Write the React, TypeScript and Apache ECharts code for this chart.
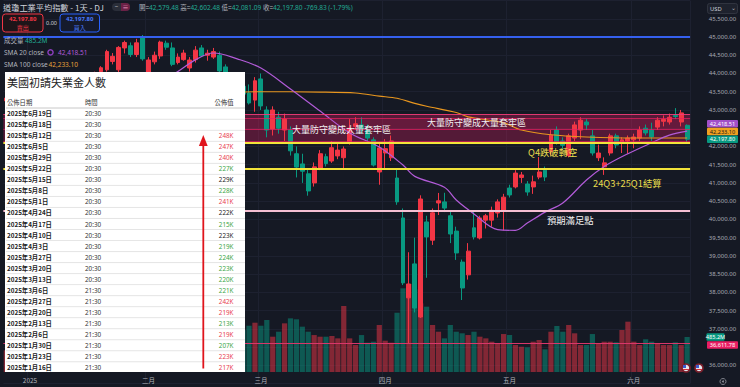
import React, { useEffect, useRef } from 'react';
import * as echarts from 'echarts';

// ---------- data ----------
const tradingDays: [string, number[]][] = [
  ['2024-12', [26, 27, 30, 31]],
  ['2025-01', [2, 3, 6, 7, 8, 10, 13, 14, 15, 16, 17, 21, 22, 23, 24, 27, 28, 29, 30, 31]],
  ['2025-02', [3, 4, 5, 6, 7, 10, 11, 12, 13, 14, 18, 19, 20, 21, 24, 25, 26, 27, 28]],
  ['2025-03', [3, 4, 5, 6, 7, 10, 11, 12, 13, 14, 17, 18, 19, 20, 21, 24, 25, 26, 27, 28, 31]],
  ['2025-04', [1, 2, 3, 4, 7, 8, 9, 10, 11, 14, 15, 16, 17, 21, 22, 23, 24, 25, 28, 29, 30]],
  ['2025-05', [1, 2, 5, 6, 7, 8, 9, 12, 13, 14, 15, 16, 19, 20, 21, 22, 23, 27, 28, 29, 30]],
  ['2025-06', [2, 3, 4, 5, 6, 9, 10, 11, 12, 13]],
];
const dates: string[] = tradingDays.flatMap(([m, ds]) => ds.map((d) => `${m}-${String(d).padStart(2, '0')}`));

const opens = [
  43250, 43200, 42800, 42600,
  42614, 42430, 42800, 42750, 42500, 42500, 41800, 42400, 42900, 43200, 43400, 43600, 44050, 44100, 44330, 44100, 44700, 44760, 44520, 45000,
  44000, 44320, 44480, 44830, 44700, 44300, 44380, 44150, 44380, 44700, 44500, 44450, 44500, 44180, 43500, 43500, 43650, 43465, 43270,
  43850, 43000, 42480, 42800, 42450, 42450, 41800, 41520, 41250, 41000, 41400, 41720, 41600, 41740, 41690, 42120, 42550, 42590, 42450, 42180, 41300,
  41820, 41690, 41135, 40040, 37850, 38780, 37325, 39930, 39430, 40450, 40480, 40100, 39680, 38830, 38480, 39770, 39490, 39980, 39980, 40175, 40250,
  40860, 40890, 41150, 40970, 40890, 41160, 41350, 41850, 42450, 42150, 41750, 42230, 42450, 42670, 42290, 41690, 41440, 41820, 42290, 42120, 42150,
  42180, 42230, 42500, 42450, 42530, 42690, 42670, 42850, 42670, 42579.48,
];
const closes = [
  43325, 42992, 42574, 42544,
  42392, 42732, 42707, 42528, 42635, 41938, 42297, 42518, 43222, 43153, 43488, 44026, 44157, 44600, 44470, 44714, 44850, 44520, 44840, 44400,
  44370, 44500, 44860, 44720, 44250, 44450, 44560, 44369, 44640, 44480, 44556, 44600, 44070, 43428, 43461, 43621, 43433, 43190, 43800,
  43110, 42450, 43000, 42500, 42750, 41880, 41433, 41320, 40780, 41440, 41800, 41530, 41965, 41900, 41930, 42500, 42620, 42450, 42230, 41490, 41960,
  41940, 42150, 40480, 38260, 38230, 37570, 40560, 39520, 40180, 40510, 40310, 39600, 39080, 38120, 39130, 39520, 40040, 40100, 40250, 40480, 40610,
  40670, 41270, 41219, 40750, 41030, 41300, 41160, 42310, 42100, 42030, 42290, 42590, 42720, 42590, 41820, 41820, 41550, 42290, 42040, 42180, 42230,
  42260, 42450, 42370, 42260, 42720, 42740, 42800, 42820, 42920, 42197.8,
];
const lows = [
  43100, 42700, 42300, 42400,
  42137, 42380, 42600, 42400, 42200, 41800, 41750, 42200, 42800, 43000, 43300, 43550, 43900, 44050, 44250, 44000, 44550, 44450, 44450, 44350,
  43880, 44250, 44400, 44650, 44200, 44250, 44350, 44050, 44300, 44450, 44350, 44400, 43900, 43350, 43400, 43300, 43300, 43150, 42950,
  43000, 42250, 42300, 42350, 42150, 41750, 41150, 41000, 40650, 40900, 41350, 41450, 41550, 41650, 41400, 42050, 42450, 42350, 42150, 41450, 40950,
  41400, 41600, 40400, 38200, 36611.78, 37450, 37300, 38400, 39300, 40120, 40200, 39350, 38890, 37790, 38350, 39450, 39450, 39750, 39800, 40050, 39700,
  40600, 40850, 41000, 40650, 40700, 41100, 41050, 41750, 42050, 41900, 41700, 42150, 42200, 42450, 41750, 41600, 41220, 41750, 41950, 41820, 41800,
  41950, 42150, 42300, 42150, 42450, 42550, 42600, 42750, 42550, 42081.09,
];
const highs = [
  43450, 43300, 42850, 42800,
  42800, 42800, 43000, 43000, 42700, 42600, 42350, 42700, 43300, 43400, 43650, 44050, 44200, 44650, 44560, 44750, 44900, 44850, 44950, 45054,
  44450, 44600, 44900, 44900, 44850, 44550, 44650, 44450, 44750, 44780, 44650, 44700, 44600, 44250, 43800, 43800, 43900, 43700, 43900,
  44000, 43100, 43100, 42950, 42900, 42550, 42000, 41800, 41400, 41560, 41900, 41800, 42150, 42100, 42000, 42750, 42800, 42800, 42600, 42250, 42100,
  42200, 42300, 41400, 40300, 39100, 39500, 40660, 40100, 40300, 40725, 40730, 40250, 39800, 38900, 39350, 40250, 40100, 40150, 40350, 40550, 40700,
  40950, 41350, 41300, 41050, 41200, 41710, 41450, 42450, 42550, 42250, 42350, 42680, 42800, 42750, 42450, 42050, 41700, 42350, 42350, 42250, 42300,
  42350, 42550, 42600, 42650, 42800, 42850, 42900, 43050, 43000, 42602.48,
];
const volumes = [
  300, 380, 420, 430,
  480, 470, 520, 540, 500, 560, 520, 540, 560, 560, 620, 560, 520, 560, 540, 620, 560, 520, 560, 600,
  580, 480, 500, 480, 520, 460, 440, 480, 520, 470, 520, 460, 520, 680, 560, 600, 580, 641, 683,
  641, 720, 489, 558, 674, 743, 730, 628, 558, 512, 489, 489, 499, 466, 914, 466, 374, 512, 406, 420, 651,
  434, 406, 821, 1159, 1219, 1145, 950, 905, 651, 558, 466, 651, 558, 536, 512, 558, 489, 466, 420, 397, 526,
  512, 374, 350, 342, 420, 443, 314, 558, 637, 558, 651, 536, 374, 374, 526, 397, 420, 420, 411, 582, 697,
  420, 374, 453, 420, 397, 374, 374, 411, 374, 485.2,
];

const sma20Dates = ['2025-01-02', '2025-01-10', '2025-01-17', '2025-01-24', '2025-01-31', '2025-02-07', '2025-02-13', '2025-02-19', '2025-02-25', '2025-03-03', '2025-03-10', '2025-03-17', '2025-03-24', '2025-03-31', '2025-04-04', '2025-04-08', '2025-04-15', '2025-04-17', '2025-04-23', '2025-04-29', '2025-05-02', '2025-05-06', '2025-05-09', '2025-05-14', '2025-05-20', '2025-05-23', '2025-05-30', '2025-06-05', '2025-06-10', '2025-06-13'];
const sma20Values = [43150, 42900, 42800, 43150, 43650, 43958, 44380, 44561, 44400, 44150, 43575, 42970, 42370, 41985, 41490, 41180, 40880, 40530, 40150, 39720, 39700, 39900, 40200, 40450, 41080, 41450, 41800, 42100, 42310, 42418.51];

const sma100Dates = ['2025-01-02', '2025-01-17', '2025-01-31', '2025-02-14', '2025-03-03', '2025-03-17', '2025-03-25', '2025-03-31', '2025-04-03', '2025-04-08', '2025-04-10', '2025-04-17', '2025-04-22', '2025-04-30', '2025-05-05', '2025-05-12', '2025-05-20', '2025-06-02', '2025-06-13'];
const sma100Values = [42700, 42950, 43200, 43420, 43500, 43490, 43465, 43380, 43320, 43180, 43100, 42930, 42810, 42650, 42450, 42320, 42260, 42230, 42233.1];

const timeLabelDates = ['2025-01-02', '2025-02-03', '2025-03-03', '2025-04-01', '2025-05-01', '2025-06-02'];
const timeLabelTexts = ['2025', '二月', '三月', '四月', '五月', '六月'];

// price-axis ticks hidden behind the value tags
const coveredTicks = [42500, 36500];

// drawn price levels
const blueLevel = 45000;
const zoneLevels = [42889, 42771, 42470, 42135];
const yellowLevels = [42100, 41380];
const targetLevel = 40230;
const lowLevel = 36611.78;

// jobless claims table
const releaseDates = ['2025年6月19日', '2025年6月18日', '2025年6月12日', '2025年6月5日', '2025年5月29日', '2025年5月22日', '2025年5月15日', '2025年5月8日', '2025年5月1日', '2025年4月24日', '2025年4月17日', '2025年4月10日', '2025年4月3日', '2025年3月27日', '2025年3月20日', '2025年3月13日', '2025年3月6日', '2025年2月27日', '2025年2月20日', '2025年2月13日', '2025年2月6日', '2025年1月30日', '2025年1月23日', '2025年1月16日'];
const releaseTimes = ['20:30', '20:30', '20:30', '20:30', '20:30', '20:30', '20:30', '20:30', '20:30', '20:30', '20:30', '20:30', '20:30', '20:30', '20:30', '20:30', '21:30', '21:30', '21:30', '21:30', '21:30', '21:30', '21:30', '21:30'];
const releaseValues = ['', '', '248K', '247K', '240K', '227K', '229K', '228K', '241K', '222K', '215K', '223K', '219K', '224K', '223K', '220K', '221K', '242K', '219K', '213K', '219K', '207K', '223K', '217K'];
const releaseTones = ['', '', 'up', 'up', 'up', 'down', 'flat', 'down', 'up', 'flat', 'down', 'flat', 'down', 'down', 'down', 'down', 'down', 'up', 'up', 'down', 'up', 'down', 'up', 'up'];

// ---------- styling ----------
const FONT = '"Noto Sans", "Noto Sans CJK TC", sans-serif';
const CJK = '"Noto Sans CJK TC", "Noto Sans", sans-serif';
const BG = '#151924';
const UP = '#f23645';
const DOWN = '#089981';
const VOL_UP = 'rgba(242,54,69,0.5)';
const VOL_DOWN = 'rgba(8,153,129,0.5)';
const GRIDLINE = '#1d2130';
const fmt2 = (v: number) => v.toLocaleString('en-US', { minimumFractionDigits: 2, maximumFractionDigits: 2 });

function txt(text: string, x: number, y: number, o: any = {}) {
  const align = o.align ?? 'left';
  return {
    type: 'text', x, y, z: o.z ?? 100, silent: true,
    style: {
      text, fill: o.fill ?? '#d1d4dc', fontSize: o.size ?? 7, fontFamily: o.font ?? FONT,
      fontWeight: o.weight ?? 'normal', align, textAlign: align,
      verticalAlign: 'middle', textVerticalAlign: 'middle', rich: o.rich, lineHeight: o.lh,
    },
  };
}
function rect(x: number, y: number, w: number, h: number, style: any, z = 100, r: any = 0) {
  return { type: 'rect', z, silent: true, shape: { x, y, width: w, height: h, r }, style };
}

function buildGraphics() {
  const last = dates.length - 1;
  const g: any[] = [];
  // header
  g.push(txt('道瓊工業平均指數 - 1天 - DJ', 3, 7, { size: 8.2, fill: '#d1d4dc', font: CJK }));
  g.push(rect(112, 3, 18, 8, { fill: '#2a2e39' }, 100, 4));
  g.push(rect(121, 3, 9, 8, { fill: '#6a2146' }, 101, [0, 4, 4, 0]));
  g.push(txt('−', 116.5, 7, { size: 6, fill: '#d1d4dc', align: 'center', z: 102 }));
  g.push(txt('≡', 125.5, 7, { size: 6, fill: '#f0a0c8', align: 'center', z: 102 }));
  const ohlcLabels = ['開', '高', '低', '收'];
  const ohlcVals = [opens[last], highs[last], lows[last], closes[last]];
  const change = -769.83;
  const pct = -1.79;
  let rt = '';
  ohlcLabels.forEach((l, k) => { rt += `{l|${l}=}{v|${fmt2(ohlcVals[k])}} `; });
  rt += `{v|${fmt2(change)} (${pct.toFixed(2)}%)}`;
  g.push(txt(rt, 139, 7, {
    size: 6.5,
    rich: {
      l: { fill: '#b2b5be', color: '#b2b5be', fontSize: 6.5, fontFamily: CJK },
      v: { fill: '#22ab94', color: '#22ab94', fontSize: 6.5, fontFamily: FONT },
    },
  }));
  // sell / buy
  g.push(rect(2.5, 14, 40.5, 18, { fill: '#1d1519', stroke: UP, lineWidth: 1 }, 100, 3));
  g.push(txt(fmt2(closes[last]), 22.7, 18.9, { size: 6, lh: 6.5, fill: UP, align: 'center', weight: 'bold' }));
  g.push(txt('賣出', 22.7, 27, { size: 6, lh: 6.5, fill: UP, align: 'center', font: CJK }));
  g.push(txt('0.00', 51.5, 23.3, { size: 5.5, fill: '#d1d4dc', align: 'center' }));
  g.push(rect(60, 14, 39.5, 18, { fill: '#151a2c', stroke: '#2962ff', lineWidth: 1 }, 100, 3));
  g.push(txt(fmt2(closes[last]), 79.7, 18.9, { size: 6, lh: 6.5, fill: '#4a7bff', align: 'center', weight: 'bold' }));
  g.push(txt('買入', 79.7, 27, { size: 6, lh: 6.5, fill: '#4a7bff', align: 'center', font: CJK }));
  // legend
  g.push(txt('成交量', 4, 40, { size: 6.5, fill: '#b2b5be', font: CJK }));
  g.push(txt(`${volumes[last]}M`, 25, 40, { size: 6.5, fill: '#22ab94' }));
  g.push(txt('SMA 20 close', 4, 52.3, { size: 6.5, fill: '#b2b5be' }));
  g.push({ type: 'circle', z: 100, silent: true, shape: { cx: 50.5, cy: 52.3, r: 2.6 }, style: { fill: 'none', stroke: '#8e3fc0', lineWidth: 1.4 } });
  g.push(txt(fmt2(sma20Values[sma20Values.length - 1]), 58, 52.3, { size: 6.5, fill: '#b25bd8' }));
  g.push(txt('SMA 100 close', 4, 64, { size: 6.5, fill: '#b2b5be' }));
  g.push(txt(fmt2(sma100Values[sma100Values.length - 1]), 48.5, 64, { size: 6.5, fill: '#e8a23a' }));

  // annotations
  g.push(txt('大量防守變成大量套牢區', 292, 129.5, { size: 9, fill: '#f2f2f2', font: CJK }));
  g.push(txt('大量防守變成大量套牢區', 427, 122.3, { size: 9, fill: '#f2f2f2', font: CJK }));
  g.push(txt('Q4跌破轉空', 528, 151.5, { size: 9.3, fill: '#e9dd4e', font: CJK }));
  g.push(txt('24Q3+25Q1結算', 593, 182.5, { size: 9.3, fill: '#e9dd4e', font: CJK }));
  g.push(txt('預期滿足點', 547, 219.5, { size: 9.3, fill: '#f2f2f2', font: CJK }));

  // right axis tags
  g.push(rect(707.5, 3.5, 30, 10, { fill: '#1e222d', stroke: '#363a45', lineWidth: 0.8 }, 100, 2));
  g.push(txt('USD', 710, 8.5, { size: 5.8, fill: '#d1d4dc' }));
  g.push(txt('⌄', 733, 7.5, { size: 5.5, fill: '#b2b5be', align: 'center' }));
  const tag = (val: string, y: number, fill: string, tc: string, x = 707, w = 31, h = 7.5) => {
    g.push(rect(x, y, w, h, { fill }, 110, 1));
    g.push(txt(val, x + w / 2, y + h / 2, { size: 5.6, fill: tc, align: 'center', z: 111 }));
  };
  tag(fmt2(sma20Values[sma20Values.length - 1]), 120, '#a24fc8', '#ffffff');
  tag(fmt2(sma100Values[sma100Values.length - 1]), 127.8, '#f0a020', '#1a1a1a');
  tag(fmt2(closes[last]), 135.6, '#089981', '#ffffff');
  tag(`${volumes[last]}M`, 333.2, '#089981', '#ffffff', 706.5, 18);
  tag(fmt2(lowLevel), 341.2, '#e91e63', '#ffffff');
  // flags & gear
  [686, 699].forEach((cx) => {
    g.push({ type: 'circle', z: 100, silent: true, shape: { cx, cy: 368, r: 4.8 }, style: { fill: '#7a1f2b' } });
    g.push({ type: 'circle', z: 101, silent: true, shape: { cx, cy: 368, r: 3.2 }, style: { fill: '#e6e8ee' } });
    g.push(rect(cx - 3, 365, 3, 3, { fill: '#3b5bd0' }, 102));
    g.push(rect(cx - 3, 369, 6, 1, { fill: '#d6313f' }, 102));
  });
  g.push({ type: 'circle', z: 100, silent: true, shape: { cx: 723, cy: 381.5, r: 3 }, style: { fill: 'none', stroke: '#8a8d96', lineWidth: 0.9 } });
  g.push({ type: 'circle', z: 100, silent: true, shape: { cx: 723, cy: 381.5, r: 1 }, style: { fill: '#8a8d96' } });

  // table
  const TL = 5, TR = 245, TT = 72, TB = 372;
  g.push(rect(TL, TT, TR - TL, TB - TT, { fill: '#ffffff' }, 200));
  g.push(txt('美國初請失業金人數', 7, 81.5, { size: 11, fill: '#222222', font: CJK, z: 201 }));
  g.push(txt('公佈日期', 7, 102.3, { size: 6.3, fill: '#333333', font: CJK, z: 201 }));
  g.push(txt('時間', 85, 102.3, { size: 6.3, fill: '#333333', font: CJK, z: 201 }));
  g.push(txt('公佈值', 233.5, 102.3, { size: 6.3, fill: '#333333', font: CJK, z: 201, align: 'right' }));
  g.push({ type: 'line', z: 201, silent: true, shape: { x1: TL + 1, y1: 108, x2: TR, y2: 108 }, style: { stroke: '#c8c8c8', lineWidth: 1 } });
  const pitch = 11.02;
  const toneColor: any = { up: '#e8414f', down: '#3aa645', flat: '#222222', '': '#222222' };
  releaseDates.forEach((d, k) => {
    const cy = 113.8 + k * pitch;
    g.push(txt(d, 7, cy, { size: 6.3, fill: '#222222', font: CJK, weight: 'bold', z: 201 }));
    g.push(txt(releaseTimes[k], 85, cy, { size: 6.3, fill: '#333333', z: 201 }));
    if (releaseValues[k]) g.push(txt(releaseValues[k], 233.5, cy, { size: 6.3, fill: toneColor[releaseTones[k]], z: 201, align: 'right' }));
    if (k < releaseDates.length - 1) {
      g.push({ type: 'line', z: 201, silent: true, shape: { x1: TL + 1, y1: cy + pitch / 2, x2: TR, y2: cy + pitch / 2 }, style: { stroke: '#dedede', lineWidth: 0.8 } });
    }
  });
  // red arrow
  g.push({ type: 'line', z: 202, silent: true, shape: { x1: 203.3, y1: 143, x2: 203.3, y2: 368.5 }, style: { stroke: '#e0141c', lineWidth: 1.8 } });
  g.push({ type: 'polygon', z: 202, silent: true, shape: { points: [[198.9, 146], [207.7, 146], [203.3, 135]] }, style: { fill: '#e0141c' } });
  return g;
}

function buildOption() {
  const labelSet = new Set(timeLabelDates);
  const isLabel = (_i: number, v: string) => labelSet.has(v);
  return {
    animation: false,
    backgroundColor: BG,
    grid: [
      { left: 3.36, width: 686.72, top: 0.52, height: 383.04 },
      { left: 3.36, width: 686.72, top: 250, height: 122 },
    ],
    xAxis: [
      {
        type: 'category', gridIndex: 0, data: dates, boundaryGap: true,
        axisLine: { show: false }, axisTick: { show: false }, axisLabel: { show: false },
        splitLine: { show: true, interval: isLabel, lineStyle: { color: GRIDLINE, width: 1 } },
      },
      {
        type: 'category', gridIndex: 1, data: dates, boundaryGap: true,
        axisLine: { show: false }, axisTick: { show: false }, splitLine: { show: false },
        axisLabel: {
          interval: isLabel,
          formatter: (v: string) => timeLabelTexts[timeLabelDates.indexOf(v)] ?? '',
          color: '#b2b5be', fontSize: 6.5, margin: 5, fontFamily: CJK,
        },
      },
    ],
    yAxis: [
      {
        type: 'value', gridIndex: 0, position: 'right', min: 35500, max: 46000, interval: 500, scale: false,
        axisLine: { show: false }, axisTick: { show: false },
        splitLine: { show: true, lineStyle: { color: GRIDLINE, width: 1 } },
        axisLabel: {
          showMinLabel: false, showMaxLabel: false, align: 'right', margin: 46,
          fontSize: 6, color: '#a9acb5', fontFamily: FONT,
          formatter: (v: number) => (coveredTicks.includes(v) ? '' : fmt2(v)),
        },
      },
      { type: 'value', gridIndex: 1, min: 0, max: 1690, show: false, splitLine: { show: false } },
    ],
    series: [
      {
        name: 'zone', type: 'line', xAxisIndex: 0, yAxisIndex: 0, data: [], z: 1, silent: true,
        markArea: {
          silent: true,
          data: [
            [{ yAxis: zoneLevels[0], itemStyle: { color: 'rgba(233,30,99,0.3)' } }, { yAxis: zoneLevels[3] }],
            [{ yAxis: zoneLevels[1], itemStyle: { color: 'rgba(233,30,99,0.12)' } }, { yAxis: zoneLevels[2] }],
          ],
        },
      },
      {
        name: '成交量', type: 'bar', xAxisIndex: 1, yAxisIndex: 1, barCategoryGap: '12%', z: 2,
        data: volumes.map((v, i) => ({ value: v, itemStyle: { color: closes[i] >= opens[i] ? VOL_UP : VOL_DOWN } })),
      },
      {
        name: 'DJ', type: 'candlestick', xAxisIndex: 0, yAxisIndex: 0, barWidth: '74%', z: 3,
        data: dates.map((_, i) => [opens[i], closes[i], lows[i], highs[i]]),
        itemStyle: { color: UP, color0: DOWN, borderColor: UP, borderColor0: DOWN, borderWidth: 1 },
      },
      {
        name: 'SMA 100', type: 'line', xAxisIndex: 0, yAxisIndex: 0, z: 4, smooth: 0.3, symbol: 'none',
        data: sma100Dates.map((d, k) => [d, sma100Values[k]]),
        lineStyle: { color: '#e8961e', width: 1.1 },
      },
      {
        name: 'SMA 20', type: 'line', xAxisIndex: 0, yAxisIndex: 0, z: 4, smooth: 0.35, symbol: 'none',
        data: sma20Dates.map((d, k) => [d, sma20Values[k]]),
        lineStyle: { color: '#b25bd8', width: 1.2 },
      },
      {
        name: 'levels', type: 'line', xAxisIndex: 0, yAxisIndex: 0, data: [], z: 5, silent: true,
        markLine: {
          silent: true, symbol: ['none', 'none'], label: { show: false },
          data: [
            { yAxis: blueLevel, lineStyle: { color: '#3560ee', width: 2, type: 'solid' } },
            ...zoneLevels.map((v, k) => ({ yAxis: v, lineStyle: { color: k === 0 ? 'rgba(240,60,120,0.9)' : 'rgba(233,30,99,0.7)', width: 1, type: 'solid' } })),
            ...yellowLevels.map((v) => ({ yAxis: v, lineStyle: { color: '#f2e33a', width: 2, type: 'solid' } })),
            { yAxis: targetLevel, lineStyle: { color: '#f5bfd2', width: 2, type: 'solid' } },
            { yAxis: lowLevel, lineStyle: { color: '#d8366a', width: 1, type: 'solid' } },
          ],
        },
      },
    ],
    graphic: { elements: buildGraphics() },
  };
}

export default function App() {
  const ref = useRef<HTMLDivElement>(null);
  useEffect(() => {
    if (!ref.current) return;
    const chart = echarts.init(ref.current, undefined, { renderer: 'svg', width: 740, height: 387 });
    chart.setOption(buildOption() as any);
    return () => chart.dispose();
  }, []);
  return <div ref={ref} style={{ position: 'fixed', left: 0, top: 0, width: 740, height: 387, background: BG }} />;
}
